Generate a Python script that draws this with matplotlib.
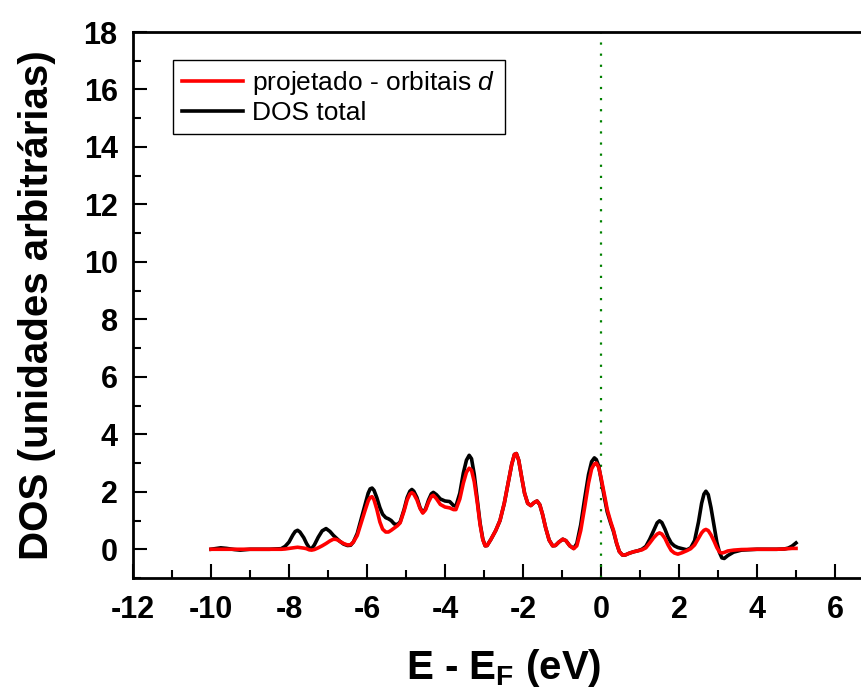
import numpy as np
import matplotlib
matplotlib.use("Agg")
import matplotlib.pyplot as plt
from matplotlib.ticker import MultipleLocator

plt.rcParams['font.family'] = ['Liberation Sans', 'DejaVu Sans']
plt.rcParams['mathtext.fontset'] = 'custom'
plt.rcParams['mathtext.rm'] = 'Liberation Sans'
plt.rcParams['mathtext.it'] = 'Liberation Sans:italic'
plt.rcParams['mathtext.bf'] = 'Liberation Sans:bold'
plt.rcParams['axes.unicode_minus'] = False

# energia (eV) relativa ao nivel de Fermi
energia = [-10.0, -9.85, -9.75, -9.6, -9.4, -9.25, -9.0, -8.5, -8.2, -8.1,
           -8.0, -7.9, -7.84, -7.78, -7.72, -7.62, -7.55, -7.48, -7.42, -7.35,
           -7.25, -7.15, -7.05, -6.95, -6.86, -6.78, -6.7, -6.6, -6.5, -6.42,
           -6.35, -6.25, -6.15, -6.05, -5.97, -5.92, -5.87, -5.82, -5.75, -5.67,
           -5.6, -5.52, -5.45, -5.38, -5.3, -5.22, -5.15, -5.05, -4.97, -4.9,
           -4.85, -4.8, -4.72, -4.64, -4.57, -4.5, -4.42, -4.35, -4.3, -4.22,
           -4.12, -4.0, -3.88, -3.78, -3.72, -3.62, -3.53, -3.45, -3.38, -3.32,
           -3.25, -3.17, -3.1, -3.03, -2.97, -2.92, -2.82, -2.7, -2.59, -2.48,
           -2.38, -2.29, -2.22, -2.17, -2.11, -2.04, -1.96, -1.88, -1.8, -1.72,
           -1.64, -1.57, -1.5, -1.42, -1.33, -1.24, -1.17, -1.08, -0.98, -0.9,
           -0.8, -0.7, -0.62, -0.52, -0.42, -0.32, -0.24, -0.17, -0.12, -0.06,
           0.0, 0.08, 0.16, 0.25, 0.32, 0.4, 0.47, 0.55, 0.62, 0.72,
           0.83, 0.95, 1.05, 1.15, 1.25, 1.35, 1.44, 1.5, 1.56, 1.64,
           1.72, 1.8, 1.88, 1.97, 2.08, 2.2, 2.3, 2.4, 2.5, 2.58,
           2.64, 2.69, 2.75, 2.82, 2.9, 2.97, 3.04, 3.1, 3.16, 3.25,
           3.4, 3.6, 4.0, 4.5, 4.7, 4.8, 4.9, 5.0]

dos_total = [0.00, 0.03, 0.05, 0.03, -0.01, -0.03, 0.00, 0.00, 0.02, 0.10,
             0.25, 0.50, 0.62, 0.66, 0.60, 0.40, 0.20, 0.05, 0.02, 0.15,
             0.42, 0.64, 0.72, 0.62, 0.48, 0.38, 0.28, 0.18, 0.13, 0.14,
             0.25, 0.55, 1.05, 1.55, 1.95, 2.10, 2.13, 2.05, 1.80, 1.45,
             1.22, 1.10, 1.06, 1.00, 0.88, 0.86, 0.95, 1.38, 1.80, 2.02,
             2.08, 2.02, 1.80, 1.45, 1.28, 1.40, 1.72, 1.93, 1.98, 1.90,
             1.75, 1.68, 1.66, 1.52, 1.50, 1.95, 2.65, 3.10, 3.27, 3.15,
             2.60, 1.70, 0.90, 0.35, 0.12, 0.13, 0.35, 0.65, 1.00, 1.60,
             2.30, 2.95, 3.30, 3.33, 3.10, 2.55, 1.95, 1.60, 1.52, 1.62,
             1.68, 1.55, 1.22, 0.75, 0.32, 0.12, 0.13, 0.25, 0.35, 0.30,
             0.12, 0.03, 0.20, 0.85, 1.75, 2.60, 3.05, 3.18, 3.12, 2.90,
             2.45, 1.85, 1.30, 0.90, 0.62, 0.20, -0.08, -0.20, -0.20, -0.14,
             -0.09, -0.05, 0.00, 0.10, 0.35, 0.65, 0.92, 0.99, 0.93, 0.70,
             0.42, 0.22, 0.12, 0.06, 0.02, -0.02, 0.05, 0.30, 0.95, 1.60,
             1.92, 2.02, 1.90, 1.45, 0.80, 0.25, -0.12, -0.30, -0.32, -0.22,
             -0.10, -0.03, 0.00, 0.00, 0.01, 0.04, 0.11, 0.22]

dos_d = [0.00, 0.00, 0.00, 0.00, 0.00, 0.00, 0.00, 0.00, 0.00, 0.01,
         0.03, 0.05, 0.06, 0.07, 0.06, 0.04, 0.02, -0.02, -0.03, -0.01,
         0.05, 0.12, 0.20, 0.29, 0.35, 0.34, 0.28, 0.20, 0.15, 0.16,
         0.25, 0.48, 0.92, 1.35, 1.68, 1.80, 1.83, 1.72, 1.40, 0.95,
         0.70, 0.60, 0.60, 0.66, 0.74, 0.82, 0.92, 1.33, 1.72, 1.92,
         1.97, 1.92, 1.72, 1.42, 1.26, 1.37, 1.65, 1.84, 1.88, 1.76,
         1.56, 1.47, 1.44, 1.38, 1.38, 1.75, 2.30, 2.68, 2.82, 2.75,
         2.35, 1.60, 0.85, 0.33, 0.12, 0.13, 0.35, 0.65, 1.00, 1.60,
         2.30, 2.95, 3.30, 3.33, 3.10, 2.55, 1.95, 1.60, 1.52, 1.62,
         1.68, 1.55, 1.22, 0.75, 0.32, 0.12, 0.13, 0.25, 0.35, 0.30,
         0.12, 0.02, 0.12, 0.65, 1.45, 2.30, 2.80, 2.97, 3.00, 2.85,
         2.50, 1.95, 1.38, 0.95, 0.66, 0.22, -0.08, -0.20, -0.20, -0.14,
         -0.09, -0.05, -0.02, 0.05, 0.22, 0.40, 0.53, 0.57, 0.53, 0.38,
         0.15, -0.04, -0.13, -0.17, -0.12, -0.05, 0.02, 0.15, 0.38, 0.57,
         0.66, 0.69, 0.65, 0.50, 0.28, 0.06, -0.10, -0.13, -0.11, -0.06,
         -0.03, -0.01, 0.00, 0.00, 0.01, 0.02, 0.03, 0.03]

fig = plt.figure(figsize=(8.62, 6.99), dpi=100)
ax = fig.add_axes([133/862, 121/699, 741/862, 546/699])

ax.plot(energia, dos_total, color='black', lw=2.6, label='DOS total',
        solid_joinstyle='round', zorder=3)
ax.plot(energia, dos_d, color='red', lw=2.6, label=r'projetado - orbitais $\mathit{d}$',
        solid_joinstyle='round', zorder=4)
ax.axvline(0, color='green', lw=1.6, linestyle=(0, (1, 4)), zorder=2)

ax.set_xlim(-12, 7)
ax.set_ylim(-1, 18)
ax.xaxis.set_major_locator(MultipleLocator(2))
ax.xaxis.set_minor_locator(MultipleLocator(1))
ax.yaxis.set_major_locator(MultipleLocator(2))
ax.yaxis.set_minor_locator(MultipleLocator(1))
ax.tick_params(which='both', direction='in', width=1.5, labelsize=22, top=False, right=False)
ax.tick_params(which='major', length=10)
ax.tick_params(which='minor', length=6)
for lab in ax.get_xticklabels() + ax.get_yticklabels():
    lab.set_fontweight('bold')
ax.tick_params(axis='x', pad=12)
ax.tick_params(axis='y', pad=11)
for s in ax.spines.values():
    s.set_linewidth(2)
ax.spines['right'].set_visible(False)

ax.set_xlabel(r'E - E$_\mathbf{F}$ (eV)', fontsize=29, fontweight='bold', labelpad=16)
ax.set_ylabel('DOS (unidades arbitrárias)', fontsize=29, fontweight='bold', labelpad=20)

h, l = ax.get_legend_handles_labels()
leg = ax.legend(h[::-1], l[::-1], loc='upper left', bbox_to_anchor=(173/862, 1 - 60/699),
                bbox_transform=fig.transFigure, borderaxespad=0, fontsize=19,
                handlelength=2.3, handletextpad=0.35, labelspacing=0.15,
                borderpad=0.35, fancybox=False, framealpha=1)
leg.get_frame().set_edgecolor('black')
leg.get_frame().set_linewidth(1.0)

fig.savefig('out.png', dpi=100)
